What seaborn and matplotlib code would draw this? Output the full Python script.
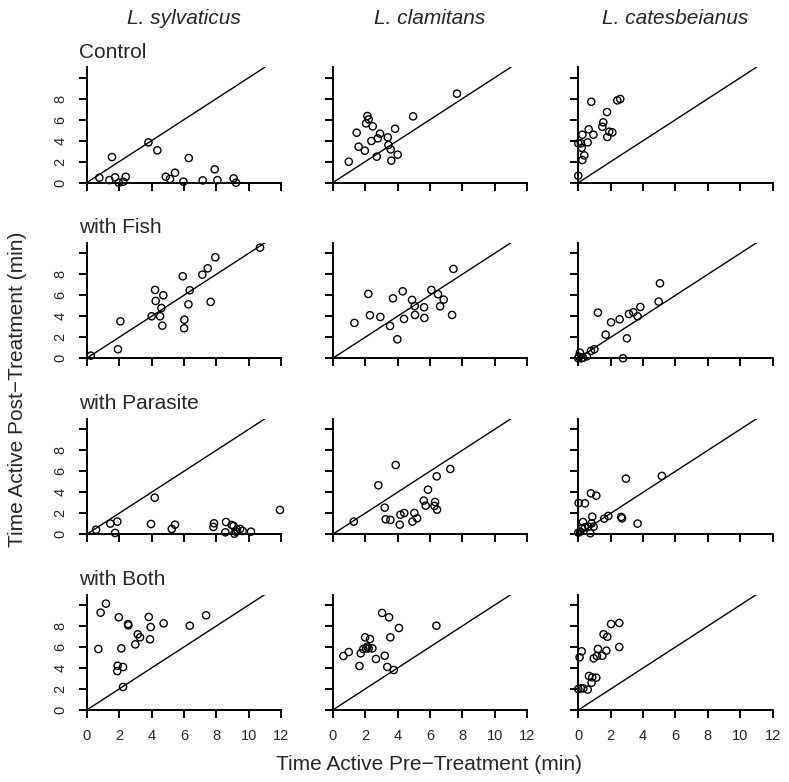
import matplotlib
matplotlib.use("Agg")
import matplotlib.pyplot as plt
import seaborn as sns
import numpy as np
import pandas as pd

# species (columns) and treatments (rows)
species = ["L. sylvaticus", "L. clamitans", "L. catesbeianus"]
treatments = ["Control", "with Fish", "with Parasite", "with Both"]

# time active (min): pre = x, post = y
# Control
ctl_syl_pre = [0.78, 1.40, 1.56, 1.75, 1.98, 2.26, 2.41, 3.81, 4.36, 4.88, 5.14, 5.45, 5.97, 6.30, 7.16, 7.90, 8.07, 9.07, 9.22]
ctl_syl_post = [0.48, 0.25, 2.44, 0.51, 0.0, 0.10, 0.57, 3.84, 3.08, 0.57, 0.35, 0.95, 0.10, 2.35, 0.22, 1.27, 0.25, 0.41, 0.0]
ctl_cla_pre = [0.99, 1.48, 1.60, 1.98, 2.06, 2.14, 2.22, 2.39, 2.47, 2.72, 2.78, 2.92, 3.40, 3.44, 3.58, 3.62, 3.85, 4.01, 4.96, 7.67]
ctl_cla_post = [2.00, 4.76, 3.43, 3.05, 5.65, 6.35, 6.03, 3.97, 5.37, 2.48, 4.22, 4.67, 4.32, 3.59, 3.17, 2.10, 5.14, 2.67, 6.32, 8.48]
ctl_cat_pre = [0.0, 0.0, 0.16, 0.25, 0.21, 0.25, 0.37, 0.58, 0.64, 0.80, 0.93, 1.48, 1.54, 1.77, 1.79, 1.91, 2.10, 2.41, 2.59]
ctl_cat_post = [0.67, 3.75, 3.75, 4.57, 3.33, 2.16, 2.60, 3.84, 5.08, 7.71, 4.57, 5.33, 5.75, 6.73, 4.35, 4.86, 4.79, 7.84, 7.97]
# with Fish
fsh_syl_pre = [0.25, 1.93, 2.08, 4.01, 4.22, 4.26, 4.53, 4.61, 4.67, 4.73, 5.93, 6.03, 6.01, 6.28, 6.36, 7.14, 7.47, 7.65, 7.94, 10.70]
fsh_syl_post = [0.25, 0.86, 3.52, 4.00, 6.51, 5.46, 4.00, 4.79, 3.11, 6.00, 7.81, 3.68, 2.86, 5.14, 6.48, 7.97, 8.57, 5.37, 9.62, 10.54]
fsh_cla_pre = [1.34, 2.20, 2.30, 2.94, 3.54, 3.72, 3.99, 4.32, 4.40, 4.90, 5.06, 5.08, 5.64, 5.66, 6.09, 6.50, 6.63, 6.85, 7.37, 7.45]
fsh_cla_post = [3.37, 6.13, 4.10, 3.94, 3.08, 5.71, 1.81, 6.38, 3.75, 5.56, 4.98, 4.13, 4.86, 3.84, 6.51, 6.10, 4.95, 5.59, 4.13, 8.51]
fsh_cat_pre = [0.0, 0.04, 0.10, 0.20, 0.29, 0.53, 0.78, 0.99, 1.21, 1.69, 2.02, 2.55, 2.76, 3.00, 3.13, 3.40, 3.66, 3.83, 4.96, 5.04]
fsh_cat_post = [0.0, 0.16, 0.54, 0.0, 0.06, 0.19, 0.70, 0.86, 4.35, 2.25, 3.43, 3.71, 0.0, 1.90, 4.22, 4.38, 4.00, 4.89, 5.40, 7.14]
# with Parasite
par_syl_pre = [0.58, 1.46, 1.75, 1.89, 3.97, 4.20, 5.25, 5.45, 7.82, 7.86, 8.56, 8.60, 8.95, 9.07, 9.12, 9.22, 9.28, 9.47, 9.63, 10.14, 11.93]
par_syl_post = [0.44, 1.02, 0.13, 1.21, 0.98, 3.49, 0.51, 0.92, 0.70, 1.05, 0.19, 1.17, 0.89, 0.79, 0.06, 0.25, 0.44, 0.51, 0.32, 0.25, 2.32]
par_cla_pre = [1.30, 2.82, 3.21, 3.27, 3.56, 3.89, 4.14, 4.18, 4.42, 4.92, 5.04, 5.21, 5.62, 5.74, 5.88, 6.28, 6.32, 6.42, 6.44, 7.26]
par_cla_post = [1.21, 4.67, 2.54, 1.43, 1.37, 6.60, 0.92, 1.87, 2.03, 1.21, 2.03, 1.52, 3.21, 2.73, 4.25, 2.70, 3.08, 5.52, 2.35, 6.22]
par_cat_pre = [0.0, 0.02, 0.12, 0.23, 0.29, 0.41, 0.41, 0.62, 0.74, 0.78, 0.82, 0.86, 0.95, 1.11, 1.60, 1.85, 2.65, 2.70, 2.94, 3.66, 5.16]
par_cat_post = [0.16, 2.98, 0.25, 0.57, 1.17, 2.95, 0.67, 0.73, 0.10, 3.90, 1.05, 1.68, 0.73, 3.68, 1.49, 1.75, 1.65, 1.52, 5.30, 1.02, 5.56]
# with Both
bth_syl_pre = [0.72, 0.86, 1.19, 1.89, 1.91, 1.98, 2.14, 2.24, 2.24, 2.55, 2.57, 3.00, 3.15, 3.29, 3.83, 3.91, 3.95, 4.75, 6.36, 7.37]
bth_syl_post = [5.81, 9.27, 10.13, 3.71, 4.22, 8.83, 5.87, 4.10, 2.19, 8.19, 8.06, 6.25, 7.21, 6.92, 8.86, 6.73, 7.90, 8.25, 8.03, 9.02]
bth_cla_pre = [0.66, 0.99, 1.65, 1.73, 1.89, 2.00, 2.06, 2.14, 2.22, 2.30, 2.45, 2.67, 3.05, 3.21, 3.37, 3.48, 3.56, 3.77, 4.09, 6.40]
bth_cla_post = [5.14, 5.52, 4.19, 5.40, 5.81, 6.92, 5.87, 6.03, 5.87, 6.76, 5.87, 4.86, 9.24, 5.17, 4.10, 8.83, 6.92, 3.81, 7.81, 8.03]
bth_cat_pre = [0.0, 0.08, 0.21, 0.16, 0.31, 0.58, 0.66, 0.82, 0.86, 0.95, 1.11, 1.15, 1.21, 1.48, 1.56, 1.73, 1.79, 2.02, 2.53, 2.53]
bth_cat_post = [2.00, 5.02, 5.59, 2.06, 2.06, 1.94, 3.24, 2.60, 3.11, 4.92, 3.08, 5.14, 5.81, 5.17, 7.21, 5.65, 6.98, 8.19, 6.00, 8.29]

panels = {
    ("Control", "L. sylvaticus"): (ctl_syl_pre, ctl_syl_post),
    ("Control", "L. clamitans"): (ctl_cla_pre, ctl_cla_post),
    ("Control", "L. catesbeianus"): (ctl_cat_pre, ctl_cat_post),
    ("with Fish", "L. sylvaticus"): (fsh_syl_pre, fsh_syl_post),
    ("with Fish", "L. clamitans"): (fsh_cla_pre, fsh_cla_post),
    ("with Fish", "L. catesbeianus"): (fsh_cat_pre, fsh_cat_post),
    ("with Parasite", "L. sylvaticus"): (par_syl_pre, par_syl_post),
    ("with Parasite", "L. clamitans"): (par_cla_pre, par_cla_post),
    ("with Parasite", "L. catesbeianus"): (par_cat_pre, par_cat_post),
    ("with Both", "L. sylvaticus"): (bth_syl_pre, bth_syl_post),
    ("with Both", "L. clamitans"): (bth_cla_pre, bth_cla_post),
    ("with Both", "L. catesbeianus"): (bth_cat_pre, bth_cat_post),
}

rows = []
for (trt, sp), (pre, post) in panels.items():
    for a, b in zip(pre, post):
        rows.append({"treatment": trt, "species": sp, "pre": a, "post": b})
df = pd.DataFrame(rows)

sns.set_style("ticks")
plt.rcParams['font.family'] = ['Liberation Sans', 'DejaVu Sans']

W, H = 789, 782
fig = plt.figure(figsize=(W / 100, H / 100), dpi=100)

# panel geometry in pixels
col_left = [86.7, 332.7, 578.3]
row_base = [182.7, 358.3, 534.3, 710.0]
pw, ph = 194.4, 115.5

for i, trt in enumerate(treatments):
    for j, sp in enumerate(species):
        ax = fig.add_axes([col_left[j] / W, 1 - row_base[i] / H, pw / W, ph / H])
        sub = df[(df.treatment == trt) & (df.species == sp)]
        sns.scatterplot(data=sub, x="pre", y="post", ax=ax, s=27,
                        facecolor="none", edgecolor="black", linewidth=1.0,
                        clip_on=False, legend=False)
        ax.plot([0, 11], [0, 11], color="black", lw=1.0)
        ax.set_xlim(0, 12)
        ax.set_ylim(0, 11)
        sns.despine(ax=ax)
        ax.spines['left'].set_bounds(0, 11)
        ax.spines['bottom'].set_bounds(0, 12)
        for s in ['left', 'bottom']:
            ax.spines[s].set_linewidth(1.4)
            ax.spines[s].set_color("black")
        ax.set_xticks(np.arange(0, 13, 2))
        ax.set_yticks(np.arange(0, 11, 2))
        ax.tick_params(direction="out", length=5.5, width=1.4, color="black",
                       labelsize=10.5, pad=8.5)
        ax.set_xlabel("")
        ax.set_ylabel("")
        if i == len(treatments) - 1:
            ax.set_xticklabels([str(v) for v in range(0, 13, 2)])
        else:
            ax.set_xticklabels([])
        if j == 0:
            ax.set_yticklabels(["0", "2", "4", "6", "8", ""], rotation=90, va="center")
            ax.text(-0.04, 1.13, trt, transform=ax.transAxes, ha="left",
                    va="center", fontsize=15)
        else:
            ax.set_yticklabels([])
        ax.patch.set_alpha(0)

for j, sp in enumerate(species):
    fig.text((col_left[j] + pw / 2) / W, 1 - 18 / H, sp, ha="center", va="center",
             fontsize=15, style="italic")

fig.text(429 / W, 1 - 765 / H, "Time Active Pre\u2212Treatment (min)", ha="center",
         va="center", fontsize=15)
fig.text(18 / W, 1 - 389 / H, "Time Active Post\u2212Treatment (min)", ha="center",
         va="center", rotation=90, fontsize=15)

fig.savefig("out.png", dpi=100)
